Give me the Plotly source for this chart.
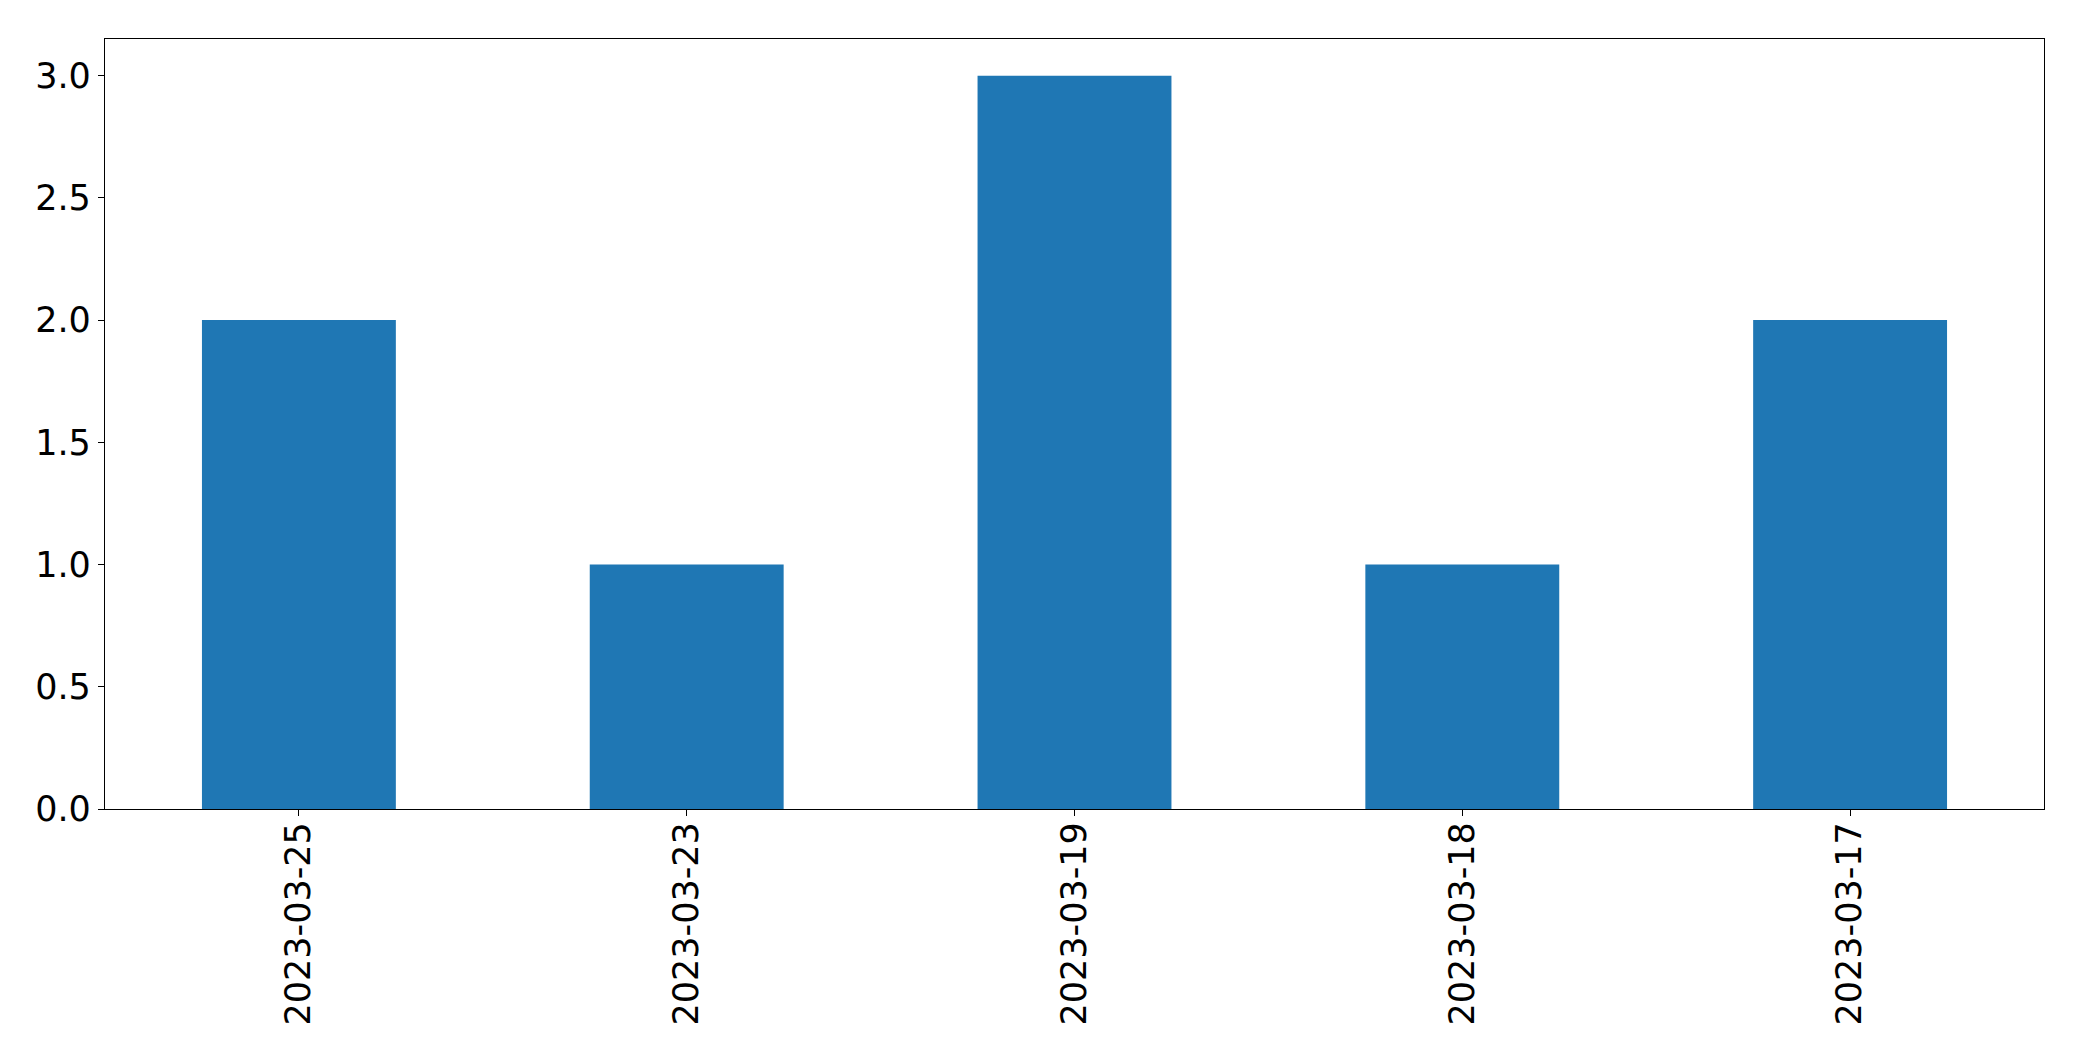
import plotly.graph_objects as go

dates = ["2023-03-25", "2023-03-23", "2023-03-19", "2023-03-18", "2023-03-17"]
counts = [2, 1, 3, 1, 2]
y_ticks = [0.0, 0.5, 1.0, 1.5, 2.0, 2.5, 3.0]

fig = go.Figure(go.Bar(x=dates, y=counts, marker=dict(color="#1f77b4", line=dict(width=0)), width=0.5))

font = dict(family="DejaVu Sans", size=35, color="black")
fig.update_layout(
    width=2082, height=1061,
    margin=dict(l=105, r=38, t=39, b=252),
    paper_bgcolor="white", plot_bgcolor="white",
    showlegend=False,
    font=font,
)
fig.update_xaxes(
    type="category", range=[-0.5, 4.5], tickangle=-90,
    showline=True, mirror=True, linecolor="black", linewidth=1.3,
    ticks="outside", ticklen=6, tickwidth=1.3, tickcolor="black",
    showgrid=False, zeroline=False, tickfont=font,
    ticklabelstandoff=-8,
)
fig.update_yaxes(
    range=[0, 3.15], tickvals=y_ticks, ticktext=[f"{v:.1f}" for v in y_ticks],
    showline=True, mirror=True, linecolor="black", linewidth=1.3,
    ticks="outside", ticklen=6, tickwidth=1.3, tickcolor="black",
    showgrid=False, zeroline=False, tickfont=font,
)
fig.write_html(
    "out.html",
    config={"displayModeBar": False},
    post_script="document.body.style.margin='0';document.body.style.overflow='hidden';",
)
